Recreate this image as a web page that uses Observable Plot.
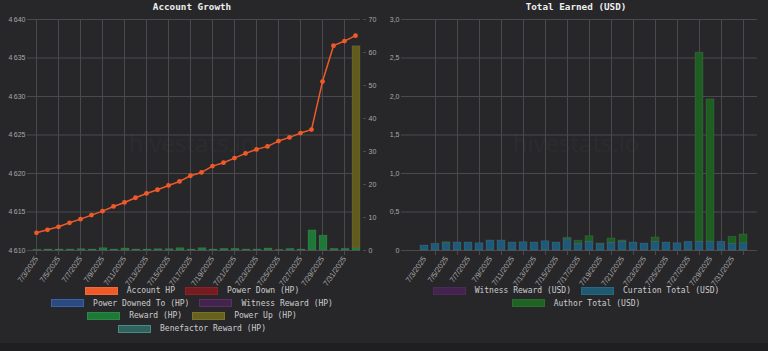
<!DOCTYPE html>
<html>
<head>
<meta charset="utf-8">
<script src="https://cdn.jsdelivr.net/npm/d3@7"></script>
<script src="https://cdn.jsdelivr.net/npm/@observablehq/plot@0.6"></script>
<style>
html, body { margin: 0; padding: 0; background: #1f1f22; }
#page { position: relative; width: 768px; height: 351px; background: #1f1f22; overflow: hidden; }
.panel { position: absolute; top: 0; width: 384px; height: 343px; background: #27272a; }
.title { position: absolute; top: 0; left: 0; width: 384px; text-align: center; font: bold 9.3px "DejaVu Sans Mono", monospace; color: #eeeeee; line-height: 14px; }
.layer { position: absolute; top: 0; left: 0; }
.wm { position: absolute; left: 0; width: 384px; top: 126px; text-align: center; font: 24px "Open Sans", sans-serif; color: #2c2c2f; }
.legend { position: absolute; left: 0; width: 384px; top: 284.3px; font: 8px "DejaVu Sans Mono", monospace; color: #cccccc; }
.row { display: flex; justify-content: center; align-items: center; height: 12.67px; }
.item { display: flex; align-items: center; margin: 0 5px; white-space: pre; }
.sw { width: 31px; height: 6px; border: 1px solid; margin-right: 9px; }
</style>
</head>
<body>
<div id="page">
  <div class="panel" id="left" style="left:0">
    <div class="wm">hivestats.io</div>
    <div class="title">Account Growth</div>
  </div>
  <div class="panel" id="right" style="left:384px">
    <div class="wm">hivestats.io</div>
    <div class="title">Total Earned (USD)</div>
  </div>
</div>
<script>
// ---------- data ----------
const dates = ["7/3/2025","7/4/2025","7/5/2025","7/6/2025","7/7/2025","7/8/2025","7/9/2025","7/10/2025",
  "7/11/2025","7/12/2025","7/13/2025","7/14/2025","7/15/2025","7/16/2025","7/17/2025","7/18/2025",
  "7/19/2025","7/20/2025","7/21/2025","7/22/2025","7/23/2025","7/24/2025","7/25/2025","7/26/2025",
  "7/27/2025","7/28/2025","7/29/2025","7/30/2025","7/31/2025","8/1/2025"];
const accountHP = [4612.30,4612.69,4613.08,4613.60,4614.07,4614.60,4615.11,4615.72,4616.24,4616.85,
  4617.41,4617.89,4618.45,4618.97,4619.71,4620.14,4620.96,4621.40,4622.00,4622.61,
  4623.13,4623.52,4624.21,4624.69,4625.25,4625.70,4631.94,4636.60,4637.20,4637.90];
const rewardHP = [0.2,0.3,0.3,0.3,0.4,0.3,0.7,0.3,0.6,0.3,0.3,0.4,0.4,0.7,0.3,0.7,0.3,0.5,0.5,0.3,
  0.3,0.6,0.2,0.5,0.3,6.1,4.5,0.5,0.5,0.7];
const powerUpHP = [0,0,0,0,0,0,0,0,0,0,0,0,0,0,0,0,0,0,0,0,0,0,0,0,0,0,0,0,0,61.2];
const curationUSD = [0.065,0.087,0.095,0.104,0.104,0.095,0.130,0.130,0.104,0.108,0.104,0.121,0.104,0.147,0.087,
  0.113,0.082,0.100,0.113,0.104,0.091,0.113,0.104,0.095,0.113,0.113,0.113,0.113,0.087,0.095];
const authorUSD = [0,0,0.013,0,0,0,0,0,0,0,0,0,0,0.018,0.039,0.073,0.009,0.056,0.017,0,0,0.056,0,0,0,
  2.457,1.851,0,0.091,0.113];
const hpTicks = [4610,4615,4620,4625,4630,4635,4640];
const rightHpTicks = [0,10,20,30,40,50,60,70];
const usdTicks = [0,0.5,1,1.5,2,2.5,3];
const labelDates = dates.filter((d, i) => i % 2 === 0 && i < 29);
const usdGridDates = dates.filter((d, i) => i % 2 === 1);

const leftLegend = [
  [["Account HP","#f05a28","#f26a3a"],["Power Down (HP)","#761b20","#8a2228"]],
  [["Power Downed To (HP)","#2a4a80","#3a62a8"],["Witness Reward (HP)","#44244e","#5a3066"]],
  [["Reward (HP)","#1e7838","#2a8a44"],["Power Up (HP)","#67611f","#7a7228"]],
  [["Benefactor Reward (HP)","#2f625c","#4a8c84"]]
];
const rightLegend = [
  [["Witness Reward (USD)","#44244e","#4e2a58"],["Curation Total (USD)","#1e5a72","#246a84"]],
  [["Author Total (USD)","#1e6224","#24702a"]]
];

// ---------- helpers ----------
const GRID = "#4a4a4e";
const TXT = "#a8a8a8";
const baseStyle = {background: "transparent", color: TXT, fontSize: "7px", fontFamily: "'Liberation Sans', Arial, sans-serif", overflow: "visible"};
const W = 384, H = 285, MT = 19, MB = 35;

function addLayer(parent, node) {
  node.classList.add("layer");
  node.style.position = "absolute";
  node.style.top = "0px";
  node.style.left = "0px";
  parent.appendChild(node);
}
function addLegend(parent, rows) {
  const lg = document.createElement("div");
  lg.className = "legend";
  for (const r of rows) {
    const row = document.createElement("div");
    row.className = "row";
    for (const [name, fill, border] of r) {
      const it = document.createElement("div");
      it.className = "item";
      const sw = document.createElement("span");
      sw.className = "sw";
      sw.style.background = fill;
      sw.style.borderColor = border;
      const t = document.createElement("span");
      t.textContent = name;
      it.appendChild(sw); it.appendChild(t);
      row.appendChild(it);
    }
    lg.appendChild(row);
  }
  parent.appendChild(lg);
}
const hpFmt = d => d3.format(",")(d).replace(",", "\u202F");
const usdFmt = d => d === 0 ? "0" : d.toFixed(1).replace(".", ",");

// ---------- left chart ----------
const left = document.getElementById("left");
const lineData = dates.map((d, i) => ({date: d, hp: accountHP[i]}));

const linePlot = Plot.plot({
  width: W, height: H, marginTop: MT, marginBottom: MB, marginLeft: 31, marginRight: 24,
  style: baseStyle,
  x: {type: "point", domain: dates, padding: 0, label: null},
  y: {domain: [4610, 4640], label: null},
  marks: [
    Plot.gridY({ticks: hpTicks, stroke: GRID, strokeOpacity: 1}),
    Plot.gridX({ticks: labelDates, stroke: GRID, strokeOpacity: 1}),
    Plot.axisY({ticks: hpTicks, tickSize: 4, tickPadding: 2, tickFormat: hpFmt, stroke: GRID, fill: TXT}),
    Plot.axisX({ticks: labelDates, tickSize: 5, tickPadding: 2, tickRotate: -55, fontSize: 7.6, stroke: GRID, fill: TXT}),
    Plot.line(lineData, {x: "date", y: "hp", stroke: "#f05a28", strokeWidth: 1.5}),
    Plot.dot(lineData, {x: "date", y: "hp", r: 2.4, fill: "#f05a28", stroke: "none"})
  ]
});
addLayer(left, linePlot);

const hpBars = [];
dates.forEach((d, i) => {
  hpBars.push({date: d, series: "Reward (HP)", value: rewardHP[i]});
  hpBars.push({date: d, series: "Power Up (HP)", value: powerUpHP[i]});
});
const barPlotL = Plot.plot({
  width: W, height: H, marginTop: MT, marginBottom: MB, marginLeft: 31, marginRight: 22,
  style: baseStyle,
  x: {type: "band", domain: dates, range: [31.8, 361.8], paddingInner: 0.273, paddingOuter: 0.1365, axis: null, label: null},
  y: {domain: [0, 70], label: null},
  color: {domain: ["Reward (HP)", "Power Up (HP)"], range: ["#1e7838", "#615b1e"]},
  marks: [
    Plot.barY(hpBars, {x: "date", y: "value", fill: "series", stroke: "rgba(255,255,255,0.08)", strokeWidth: 1}),
    Plot.axisY({anchor: "right", ticks: rightHpTicks, tickSize: 3, tickPadding: 3, stroke: GRID, fill: TXT})
  ]
});
addLayer(left, barPlotL);
addLegend(left, leftLegend);

// ---------- right chart ----------
const right = document.getElementById("right");
const usdBars = [];
dates.forEach((d, i) => {
  usdBars.push({date: d, series: "Curation Total (USD)", value: curationUSD[i]});
  usdBars.push({date: d, series: "Author Total (USD)", value: authorUSD[i]});
});
const usdPlot = Plot.plot({
  width: W, height: H, marginTop: MT, marginBottom: MB, marginLeft: 21, marginRight: 11,
  style: baseStyle,
  x: {type: "band", domain: dates, range: [24, 374], paddingInner: 0.314, paddingOuter: 0.157, label: null},
  y: {domain: [0, 3], label: null},
  color: {domain: ["Curation Total (USD)", "Author Total (USD)"], range: ["#1e5a78", "#1e5e22"]},
  marks: [
    Plot.gridY({ticks: usdTicks, stroke: GRID, strokeOpacity: 1}),
    Plot.gridX({ticks: usdGridDates, stroke: GRID, strokeOpacity: 1}),
    Plot.axisX({ticks: usdGridDates, tickSize: 5, tickFormat: () => "", stroke: GRID}),
    Plot.axisX({ticks: labelDates, tickSize: 0, tickPadding: 7, tickRotate: -55, fontSize: 7.6, fill: TXT}),
    Plot.axisY({ticks: usdTicks, tickSize: 4, tickPadding: 2, tickFormat: usdFmt, stroke: GRID, fill: TXT}),
    Plot.barY(usdBars, {x: "date", y: "value", fill: "series", stroke: "rgba(255,255,255,0.08)", strokeWidth: 1})
  ]
});
addLayer(right, usdPlot);
addLegend(right, rightLegend);
</script>
</body>
</html>
